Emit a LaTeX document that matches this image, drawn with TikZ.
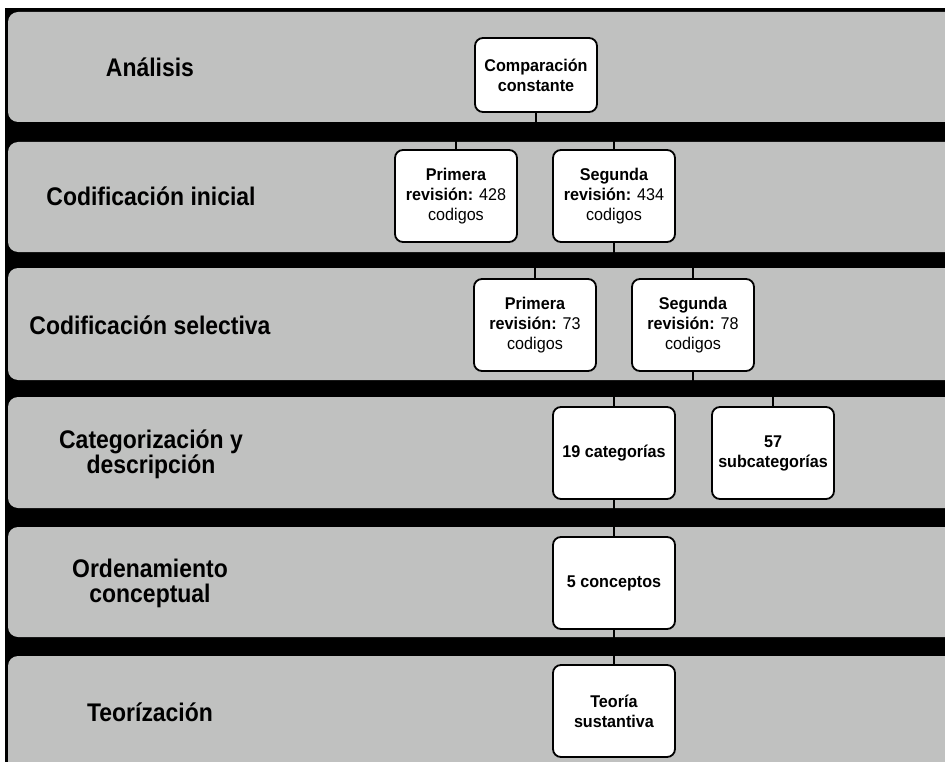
\documentclass[tikz,border=0pt]{standalone}
\usepackage{fontspec}
\setmainfont{Liberation Sans}
\newfontfamily\etiqfont[FakeStretch=0.9]{Liberation Sans}
\newfontfamily\cajafont[FakeStretch=0.95]{Liberation Sans}
\definecolor{bandgray}{RGB}{192,193,192}

\begin{document}
\begin{tikzpicture}[x=1pt,y=-1pt,
    band/.style={fill=bandgray,rounded corners=10pt},
    etapa/.style={align=center,font=\etiqfont\fontsize{25.5}{25}\selectfont\bfseries},
    caja/.style={draw,line width=1.8pt,fill=white,rounded corners=8pt,
        minimum width=122pt,minimum height=92pt,align=center,inner sep=2pt,
        font=\cajafont\fontsize{17}{20}\selectfont},
    enlace/.style={line width=1.2pt}]
            \useasboundingbox (0,0) rectangle (945,762);
            \fill[white] (0,0) rectangle (945,762);
            \fill[black] (5,8) rectangle (945,762);
            % franjas
            \fill[band] (8,12) rectangle (975,122);
            \fill[band] (8,142) rectangle (975,252);
            \fill[band] (8,268) rectangle (975,380);
            \fill[band] (8,397) rectangle (975,508);
            \fill[band] (8,527) rectangle (975,637);
            \fill[band] (8,656) rectangle (975,790);
            % etapas
            \node[etapa] (analisis) at (150,67) {Análisis};
            \node[etapa] (inicial) at (151,196) {Codificación inicial};
            \node[etapa] (selectiva) at (150,325) {Codificación selectiva};
            \node[etapa] (categ) at (151,454) {Categorización y\\descripción};
            \node[etapa] (orden) at (150,583) {Ordenamiento\\conceptual};
            \node[etapa] (teorizacion) at (150,712) {Teorízación};
            % cajas
            \node[caja,minimum height=74pt] (comp) at (536,75) {\textbf{Comparación}\\\textbf{constante}};
            \node[caja] (pri1) at (456,196) {\textbf{Primera}\\\textbf{revisión:} 428\\codigos};
            \node[caja] (seg1) at (614,196) {\textbf{Segunda}\\\textbf{revisión:} 434\\codigos};
            \node[caja] (pri2) at (535,325) {\textbf{Primera}\\\textbf{revisión:} 73\\codigos};
            \node[caja] (seg2) at (693,325) {\textbf{Segunda}\\\textbf{revisión:} 78\\codigos};
            \node[caja] (cat) at (614,453) {\textbf{19 categorías}};
            \node[caja] (subcat) at (773,453) {\textbf{57}\\\textbf{subcategorías}};
            \node[caja] (conc) at (614,583) {\textbf{5 conceptos}};
            \node[caja] (teo) at (614,711) {\textbf{Teoría}\\\textbf{sustantiva}};
            % enlaces
            \draw[enlace] (comp.south) -- +(0,20) -| (pri1.north);
            \draw[enlace] (comp.south) -- +(0,20) -| (seg1.north);
            \draw[enlace] (seg1.south) -- +(0,18) -| (pri2.north);
            \draw[enlace] (seg1.south) -- +(0,18) -| (seg2.north);
            \draw[enlace] (seg2.south) -- +(0,18) -| (cat.north);
            \draw[enlace] (seg2.south) -- +(0,18) -| (subcat.north);
            \draw[enlace] (cat) -- (conc);
            \draw[enlace] (conc) -- (teo);
        \end{tikzpicture}
\end{document}
